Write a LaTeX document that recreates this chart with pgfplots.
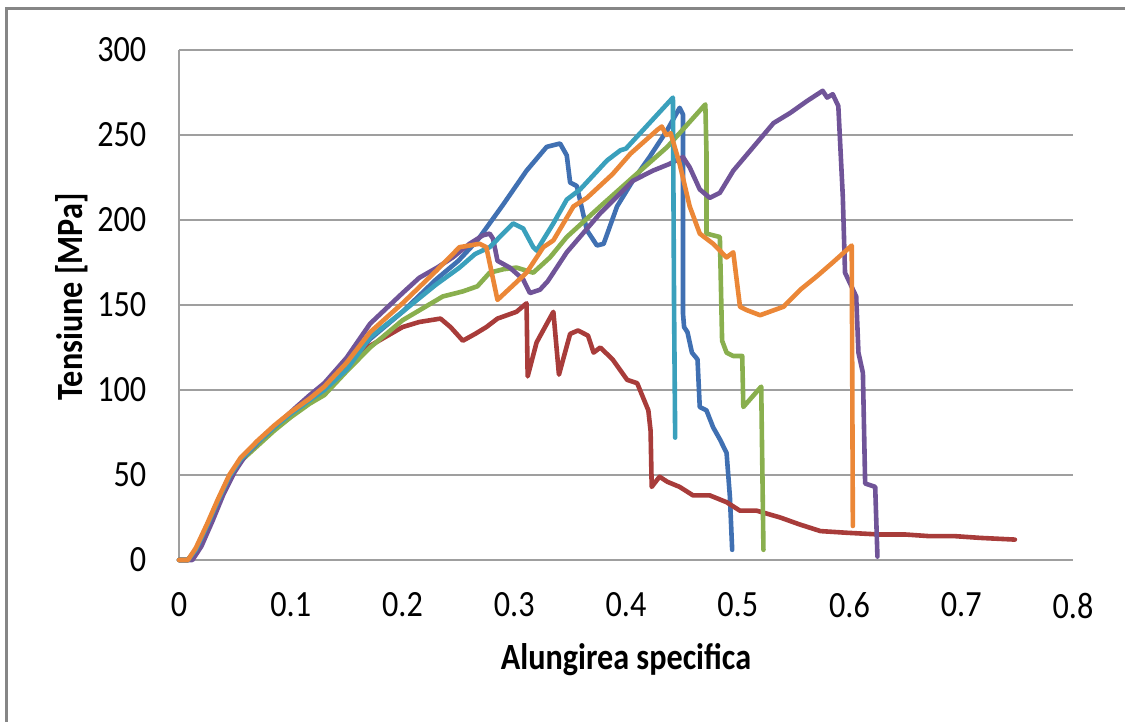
\documentclass[border=0pt]{standalone}
\usepackage{pgfplots}
\pgfplotsset{compat=1.18}
\usepackage{fontspec}
\setmainfont{Carlito}[FakeStretch=0.87]
\definecolor{sblue}{RGB}{64,112,178}
\definecolor{sred}{RGB}{168,60,58}
\definecolor{sgreen}{RGB}{137,175,78}
\definecolor{spurple}{RGB}{112,84,152}
\definecolor{scyan}{RGB}{58,160,188}
\definecolor{sorange}{RGB}{235,135,55}
\definecolor{frame}{RGB}{134,134,134}
\begin{document}
\begin{tikzpicture}[x=0.5pt,y=0.5pt]
\fontsize{18.5}{22}\selectfont
\draw[frame, line width=1.5pt] (6,0) -- (6,713) -- (1125,713);
\begin{axis}[
  at={(89.5pt,81pt)}, anchor=south west,
  scale only axis, width=447pt, height=255pt,
  xmin=0, xmax=0.8, ymin=0, ymax=300,
  xtick={0,0.1,...,0.8}, ytick={0,50,...,300},
  xticklabels={0,0.1,0.2,0.3,0.4,0.5,0.6,0.7,0.8},
  /pgf/number format/assume math mode=true,
  axis x line=bottom, axis y line=left,
  axis line style={-, draw=gray!75, line width=1pt},
  major tick length=0pt,
  ymajorgrids, grid style={gray!75, line width=1pt},
  tick label style={font=\fontsize{18.5}{22}\selectfont},
  xticklabel style={yshift=-10pt},
  yticklabel style={xshift=-10pt},
  xlabel={\bfseries Alungirea specifica},
  ylabel={\bfseries Tensiune [MPa]},
  label style={font=\fontsize{18.5}{22}\selectfont},
  xlabel style={at={(axis description cs:0.5,-0.196)}, anchor=center},
  ylabel style={at={(axis description cs:-0.1197,0.516)}, anchor=center},
  every axis plot/.append style={line width=2.3pt, line join=round, line cap=round, no markers},
  clip=false,
]
% blue
\addplot[sblue] coordinates {
(0,0) (0.008,0) (0.015,6) (0.025,20) (0.035,35) (0.045,49) (0.055,59) (0.07,69) (0.085,78) (0.1,86) (0.117,95)
(0.13,102) (0.15,114) (0.171,130) (0.2,146) (0.23,165) (0.25,176) (0.267,188) (0.29,209) (0.311,229)
(0.329,243) (0.341,245) (0.347,238) (0.35,222) (0.356,220) (0.365,194) (0.374,185) (0.38,186) (0.392,208)
(0.406,223) (0.421,237) (0.437,253) (0.448,266) (0.451,262) (0.451,200) (0.451,145) (0.452,137)
(0.455,134) (0.459,122) (0.464,118) (0.466,90) (0.472,88) (0.478,78) (0.484,71) (0.490,63) (0.493,37) (0.495,6)
};
% red
\addplot[sred] coordinates {
(0,0) (0.008,0) (0.015,6) (0.025,20) (0.035,35) (0.045,49) (0.055,59) (0.07,69) (0.085,78) (0.1,86) (0.117,94)
(0.13,101) (0.15,113) (0.171,126) (0.2,137) (0.215,140) (0.234,142) (0.243,137) (0.254,129) (0.265,133)
(0.275,137) (0.285,142) (0.302,146) (0.311,151) (0.312,108) (0.32,128) (0.335,146) (0.340,109) (0.35,133)
(0.357,135) (0.366,132) (0.371,122) (0.377,125) (0.388,118) (0.401,106) (0.41,104) (0.415,96) (0.42,88)
(0.422,76) (0.423,43) (0.430,49) (0.437,46) (0.448,43) (0.460,38) (0.475,38) (0.490,34) (0.502,29)
(0.517,29) (0.538,25) (0.555,21) (0.574,17) (0.598,16) (0.627,15) (0.65,15) (0.672,14) (0.695,14) (0.717,13) (0.748,12)
};
% green
\addplot[sgreen] coordinates {
(0,0) (0.008,0) (0.015,6) (0.025,20) (0.035,35) (0.045,49) (0.055,58) (0.07,67) (0.085,76) (0.1,84) (0.117,92)
(0.13,97) (0.15,111) (0.171,125) (0.2,141) (0.236,155) (0.254,158) (0.267,161) (0.278,169) (0.29,171)
(0.302,172) (0.317,169) (0.332,178) (0.347,190) (0.377,208) (0.406,225) (0.437,243) (0.471,268)
(0.472,240) (0.472,192) (0.484,190) (0.486,129) (0.490,122) (0.496,120) (0.504,120) (0.505,90)
(0.521,102) (0.523,6)
};
% purple
\addplot[spurple] coordinates {
(0,0) (0.012,0) (0.02,8) (0.03,23) (0.04,39) (0.05,52) (0.06,62) (0.075,72) (0.09,81) (0.105,90) (0.117,97)
(0.13,104) (0.15,119) (0.171,139) (0.2,157) (0.215,166) (0.231,172) (0.245,178) (0.26,186) (0.272,191)
(0.278,192) (0.281,189) (0.285,176) (0.296,172) (0.308,165) (0.314,157) (0.323,159) (0.33,164)
(0.347,181) (0.377,204) (0.406,223) (0.424,229) (0.439,233) (0.451,237) (0.457,231) (0.466,218)
(0.475,213) (0.484,216) (0.496,229) (0.514,243) (0.532,257) (0.547,263) (0.562,270) (0.576,276)
(0.58,272) (0.585,274) (0.590,267) (0.594,214) (0.596,169) (0.606,155) (0.608,122) (0.612,110)
(0.614,45) (0.623,43) (0.625,2)
};
% cyan
\addplot[scyan] coordinates {
(0,0) (0.008,0) (0.015,6) (0.025,20) (0.035,35) (0.045,49) (0.055,59) (0.07,69) (0.085,78) (0.1,86) (0.117,94)
(0.13,100) (0.15,112) (0.171,131) (0.2,146) (0.23,162) (0.251,172) (0.265,180) (0.278,184) (0.29,192)
(0.299,198) (0.308,195) (0.317,184) (0.320,182) (0.335,198) (0.347,212) (0.359,218) (0.383,235)
(0.395,241) (0.4,242) (0.442,272) (0.443,150) (0.444,72)
};
% orange
\addplot[sorange] coordinates {
(0,0) (0.008,0) (0.015,7) (0.025,21) (0.035,36) (0.045,50) (0.055,60) (0.07,70) (0.085,79) (0.1,87) (0.117,95)
(0.13,102) (0.15,116) (0.171,134) (0.2,151) (0.23,170) (0.251,184) (0.269,186) (0.275,184) (0.285,153)
(0.311,169) (0.326,184) (0.335,188) (0.353,208) (0.365,213) (0.388,227) (0.404,239) (0.428,253)
(0.432,255) (0.436,250) (0.44,251) (0.448,233) (0.457,208) (0.466,192) (0.478,186) (0.49,178)
(0.496,181) (0.502,149) (0.508,147) (0.52,144) (0.541,149) (0.556,159) (0.571,167) (0.585,175)
(0.602,185) (0.603,20)
};
\end{axis}
\pgfresetboundingbox
\path[use as bounding box] (0,0) rectangle (1125,722);
\end{tikzpicture}
\end{document}
